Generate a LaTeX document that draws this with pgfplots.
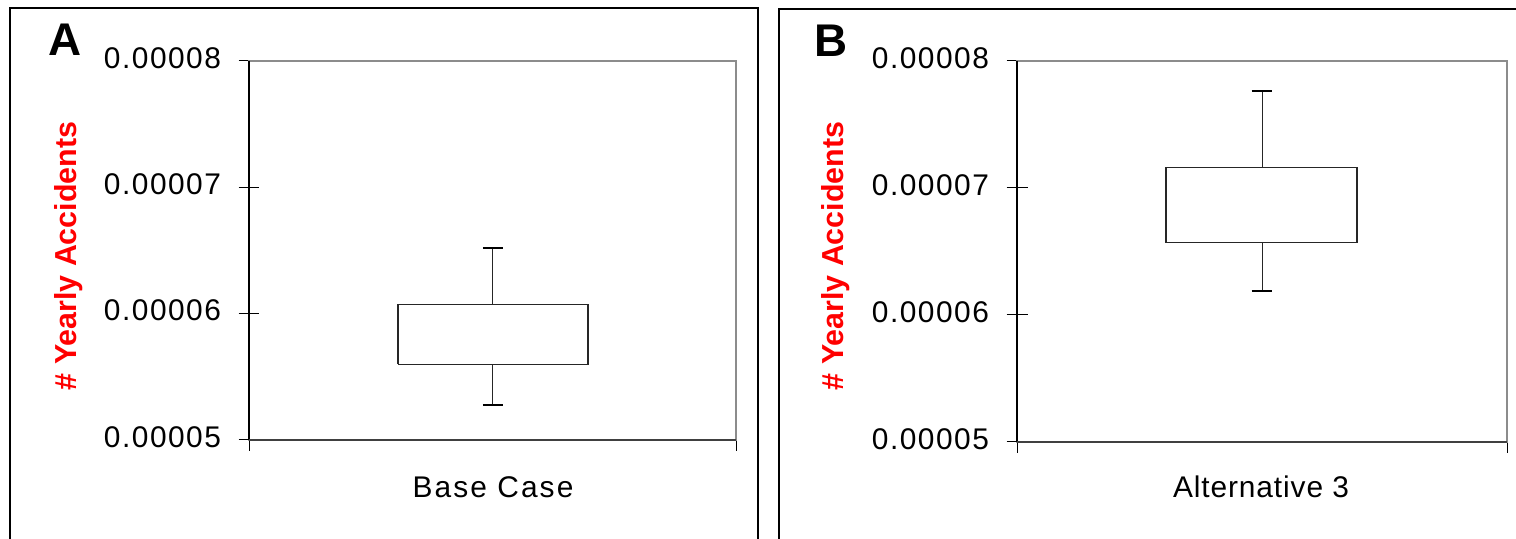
\documentclass[border=0pt]{standalone}
\usepackage{pgfplots}
\pgfplotsset{compat=1.18}
\usepackage{fontspec}
\setmainfont{Liberation Sans}
\begin{document}
\begin{tikzpicture}
\useasboundingbox (0bp,0bp) rectangle (1516bp,539bp);
% outer frames
\draw[line width=1.3bp] (10bp,-5bp) -- (10bp,531bp) -- (758bp,531bp) -- (758bp,-5bp);
\draw[line width=1.3bp] (779bp,-5bp) -- (779bp,530bp) -- (1530bp,530bp);
% values in units of 1e-5 yearly accidents
\pgfplotsset{myax/.style={
  scale only axis, xmin=0, xmax=1, ymin=5, ymax=8,
  ytick={5,6,7,8}, yticklabels={0.00005,0.00006,0.00007,0.00008},
  xtick={0,1}, xticklabels={},
  yticklabel style={font=\fontsize{30}{36}\selectfont\addfontfeatures{LetterSpace=5}, xshift=-14bp, yshift=3bp},
  tick align=center, major tick length=21bp, tick pos=left,
  tick style={black, line width=1bp},
  axis line style={gray!90, line width=2bp},
  clip=false,
}}
% Base Case: whiskers 5.28 / 6.52, box 5.60 - 6.075
\begin{axis}[myax, at={(249bp,99bp)}, anchor=south west, width=487bp, height=379bp]
\addplot[black!85, line width=1.2bp] coordinates {(0.306,5.60) (0.696,5.60) (0.696,6.075) (0.306,6.075) (0.306,5.60)};
\addplot[black!85, line width=1bp] coordinates {(0.501,6.075) (0.501,6.52)};
\addplot[black!85, line width=1bp] coordinates {(0.501,5.60) (0.501,5.28)};
\addplot[black, line width=2bp] coordinates {(0.480,6.52) (0.522,6.52)};
\addplot[black, line width=2bp] coordinates {(0.480,5.28) (0.522,5.28)};
\draw[black, line width=1.5bp] (rel axis cs:0,0) -- (rel axis cs:0,1);
\draw[black!75, line width=2bp] (rel axis cs:0,0) -- (rel axis cs:1,0);
\end{axis}
% Alternative 3: whiskers 6.19 / 7.76, box 6.57 - 7.16
\begin{axis}[myax, at={(1017bp,97bp)}, anchor=south west, width=490bp, height=381bp]
\addplot[black!85, line width=1.2bp] coordinates {(0.304,6.57) (0.694,6.57) (0.694,7.16) (0.304,7.16) (0.304,6.57)};
\addplot[black!85, line width=1bp] coordinates {(0.500,7.16) (0.500,7.76)};
\addplot[black!85, line width=1bp] coordinates {(0.500,6.57) (0.500,6.19)};
\addplot[black, line width=2bp] coordinates {(0.479,7.76) (0.521,7.76)};
\addplot[black, line width=2bp] coordinates {(0.479,6.19) (0.521,6.19)};
\draw[black, line width=1.5bp] (rel axis cs:0,0) -- (rel axis cs:0,1);
\draw[black!75, line width=2bp] (rel axis cs:0,0) -- (rel axis cs:1,0);
\end{axis}
% panel letters
\node[font=\bfseries\fontsize{46}{46}\selectfont] at (65bp,499bp) {A};
\node[font=\bfseries\fontsize{46}{46}\selectfont] at (831bp,498bp) {B};
% y labels
\node[rotate=90, red, font=\bfseries\fontsize{30.5}{36}\selectfont] at (69bp,283bp) {\# Yearly Accidents};
\node[rotate=90, red, font=\bfseries\fontsize{30.5}{36}\selectfont] at (836bp,283bp) {\# Yearly Accidents};
% x labels
\node[font=\fontsize{30}{36}\selectfont\addfontfeatures{LetterSpace=7}] at (493bp,52bp) {Base Case};
\node[font=\fontsize{30}{36}\selectfont\addfontfeatures{LetterSpace=3}] at (1261bp,52bp) {Alternative 3};
\end{tikzpicture}
\end{document}
